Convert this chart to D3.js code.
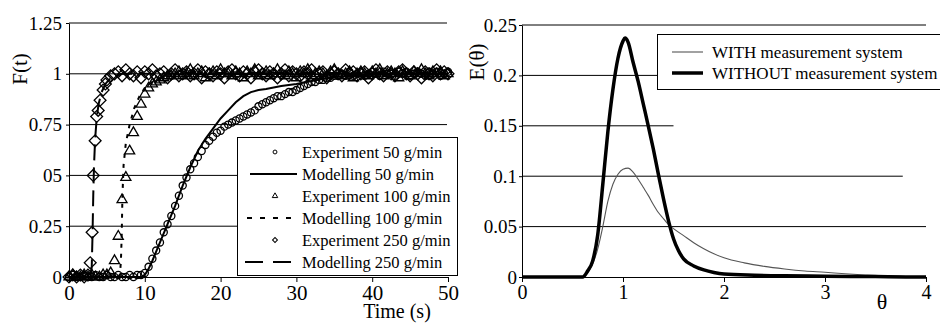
<!DOCTYPE html>
<html>
<head>
<meta charset="utf-8">
<script src="https://cdn.jsdelivr.net/npm/d3@7/dist/d3.min.js"></script>
<style>
  body { margin: 0; background: #fff; }
  svg { display: block; font-family: "Liberation Serif", "Times New Roman", Times, serif; }
</style>
</head>
<body>
<svg id="chart" width="940" height="323"></svg>
<script>
// ---- left panel: F(t) for three flow rates ----
const tGrid = [0,0.5,1,1.5,2,2.5,3,3.5,4,4.5,5,5.5,6,6.5,7,7.5,8,8.5,9,9.5,
  10,10.5,11,11.5,12,12.5,13,13.5,14,14.5,15,15.5,16,16.5,17,17.5,18,18.5,19,19.5,
  20,20.5,21,21.5,22,22.5,23,23.5,24,24.5,25,25.5,26,26.5,27,27.5,28,28.5,29,29.5,
  30,30.5,31,31.5,32,32.5,33,33.5,34,34.5,35,35.5,36,36.5,37,37.5,38,38.5,39,39.5,
  40,40.5,41,41.5,42,42.5,43,43.5,44,44.5,45,45.5,46,46.5,47,47.5,48,48.5,49,49.5,50];

// Experiment 50 g/min (on tGrid)
const exp50 = [0,0.01,0,0,0.01,0,0,0.01,0,0,0.01,0,0,0.01,0,0,0.01,0,0.01,0.01,
  0.02,0.05,0.09,0.13,0.17,0.22,0.26,0.30,0.35,0.40,0.45,0.49,0.53,0.56,0.59,0.62,0.65,0.67,0.69,0.71,
  0.72,0.74,0.75,0.76,0.77,0.78,0.79,0.80,0.81,0.82,0.84,0.85,0.86,0.87,0.88,0.89,0.89,0.90,0.91,0.91,
  0.92,0.93,0.94,0.95,0.96,0.96,0.97,0.97,0.98,0.98,0.99,
  0.99,1.00,0.99,1.01,0.99,1.00,1.01,0.99,1.00,1.01,1.00,0.99,1.01,1.00,1.00,0.99,1.01,1.00,1.01,0.99,
  1.00,1.01,1.00,0.99,1.01,1.00,1.01,0.99,1.00,1.01];

// Experiment 100 g/min (on tGrid)
const exp100 = [0,0.01,0,0,0.01,0,0.01,0,0,0.01,0.01,0.02,
  0.08,0.20,0.38,0.49,0.62,0.71,0.79,0.85,0.90,0.93,0.95,0.96,0.97,0.98,0.99,0.99,1.00,
  1.01,0.99,1.00,1.02,0.99,1.00,1.01,0.98,1.00,1.01,
  0.99,1.02,1.00,1.00,0.99,1.01,1.00,0.98,1.01,1.00,
  1.02,0.99,1.00,1.01,0.99,1.00,1.02,1.00,0.99,1.01,
  1.00,0.98,1.01,1.00,1.02,0.99,1.00,1.01,1.00,0.99,
  1.01,1.02,1.00,0.99,1.00,1.01,0.98,1.00,1.01,1.00,
  0.99,1.01,1.00,1.02,0.99,1.00,1.01,1.00,0.98,1.01,
  1.00,0.99,1.01,1.00,1.02,1.00,0.99,1.01,1.00,1.01,
  0.99,1.00];

// Experiment 250 g/min: rise points, then tGrid from 5 s
const exp250Time = [0,0.5,1,1.5,2,2.5,2.8,3.05,3.2,3.45,3.65,3.85,4.1,4.5,4.8].concat(tGrid.slice(10));
const exp250 = [0,0.01,0,0.01,0,0.01,0.07,0.22,0.50,0.67,0.79,0.82,0.87,0.92,0.95,
  0.97,0.99,1.00,1.01,0.99,1.02,1.00,0.99,1.01,0.98,
  1.01,1.00,1.02,0.99,1.00,1.01,0.98,1.00,1.02,0.99,
  1.00,1.01,0.99,1.00,1.02,0.98,1.01,1.00,0.99,1.01,
  1.00,0.98,1.01,1.02,1.00,0.99,1.01,1.00,0.98,1.01,
  1.02,1.00,0.99,1.01,1.00,0.98,1.00,1.02,0.99,1.01,
  1.00,0.99,1.01,1.00,1.02,0.99,1.00,1.01,0.98,1.00,
  1.01,1.00,0.99,1.02,1.00,1.01,0.99,1.00,1.01,0.98,
  1.00,1.02,1.00,0.99,1.01,1.00,0.99,1.01,1.02,1.00,
  0.99,1.01,1.00,0.98,1.01,1.00,0.99,1.02,1.00,1.01,
  1.00];

// Modelling curves
const mod50Time = [0,9.5,10,10.5,11,12,13,14,15,16,17,18,19,20,21,22,23,24,25,26,28,30,32,35,40,45,50];
const mod50 = [0,0,0.01,0.04,0.08,0.17,0.26,0.35,0.45,0.54,0.62,0.68,0.73,0.78,0.82,0.86,0.89,0.91,0.92,0.925,0.94,0.95,0.965,0.985,0.995,1,1];
const mod100Time = [0,6.7,6.85,6.95,7.05,7.2,7.5,8,8.6,9.3,10,11,12,13.5,15,50];
const mod100 = [0,0,0.08,0.2,0.4,0.55,0.66,0.75,0.83,0.89,0.93,0.96,0.98,0.99,1,1];
const mod250Time = [0,2.8,3.0,3.1,3.2,3.3,3.45,3.65,3.9,4.3,4.8,5.5,7,50];
const mod250 = [0,0,0.05,0.2,0.4,0.55,0.68,0.78,0.85,0.91,0.95,0.98,1,1];

const leftYTicks = [0,0.25,0.5,0.75,1,1.25];
const leftYLabels = ["0","0.25","05","0.75","1","1.25"];
const leftXTicks = [0,10,20,30,40,50];
const leftLegend = ["Experiment 50 g/min","Modelling 50 g/min","Experiment 100 g/min",
  "Modelling 100 g/min","Experiment 250 g/min","Modelling 250 g/min"];

// ---- right panel: E(theta) ----
const thetaWith = [0,0.6,0.65,0.7,0.75,0.8,0.85,0.9,0.95,1.0,1.05,1.1,1.15,1.2,1.25,1.3,1.35,1.4,1.45,1.5,
  1.6,1.7,1.8,1.9,2.0,2.2,2.4,2.6,2.8,3.0,3.2,3.4,3.6,3.8,4.0];
const eWith = [0,0,0.004,0.013,0.028,0.05,0.075,0.092,0.102,0.107,0.108,0.104,0.097,0.089,0.081,0.072,0.064,0.058,0.052,0.048,
  0.041,0.034,0.028,0.023,0.019,0.014,0.0105,0.008,0.006,0.0047,0.0032,0.002,0.001,0.0005,0];
const thetaWithout = [0,0.6,0.65,0.7,0.75,0.8,0.85,0.9,0.95,1.0,1.02,1.05,1.1,1.15,1.2,1.25,1.3,1.35,1.4,1.45,
  1.5,1.55,1.6,1.7,1.8,1.9,2.0,2.3,2.6,3.0,3.5,3.8,4.0];
const eWithout = [0,0,0.006,0.016,0.042,0.092,0.144,0.186,0.217,0.234,0.237,0.233,0.213,0.194,0.172,0.150,0.127,0.102,0.078,0.056,
  0.038,0.026,0.018,0.011,0.007,0.0045,0.003,0.0018,0.0012,0.0008,0.0004,0.0001,0];

const rightYTicks = [0,0.05,0.1,0.15,0.2,0.25];
const rightYLabels = ["0","0.05","0.1","0.15","0.2","0.25"];
const rightXTicks = [0,1,2,3,4];
const rightLegend = ["WITH measurement system","WITHOUT measurement system"];

const serif = '"Liberation Serif", "Times New Roman", Times, serif';
const svg = d3.select('#chart');

function styleAxis(g, size) {
  g.attr('font-family', serif).attr('font-size', size);
  g.selectAll('path, line').attr('stroke', '#000').attr('stroke-width', 1);
}

// ======== LEFT PANEL ========
const xL = d3.scaleLinear().domain([0, 50]).range([69, 448]);
const yL = d3.scaleLinear().domain([0, 1.25]).range([277, 23]);

// grid lines
svg.append('g').selectAll('line')
  .data(leftYTicks.filter(v => v > 0))
  .enter().append('line')
  .attr('x1', xL(0)).attr('x2', xL(50) - 1)
  .attr('y1', d => yL(d)).attr('y2', d => yL(d))
  .attr('stroke', '#000').attr('stroke-width', 1);

// experiment markers (hollow)
const circleSym = d3.symbol().type(d3.symbolCircle).size(40);
const triSym = d3.symbol().type(d3.symbolTriangle).size(44);
const diaSym = d3.symbol().type(d3.symbolSquare).size(70);

function drawMarkers(times, vals, sym, rot) {
  svg.append('g').selectAll('path')
    .data(d3.zip(times, vals))
    .enter().append('path')
    .attr('d', sym)
    .attr('transform', d => `translate(${xL(d[0])},${yL(d[1])})` + (rot ? ` rotate(${rot})` : ''))
    .attr('fill', 'none').attr('stroke', '#000').attr('stroke-width', 1.3);
}
drawMarkers(exp250Time, exp250, diaSym, 45);
drawMarkers(tGrid, exp100, triSym, 0);
drawMarkers(tGrid, exp50, circleSym, 0);

// modelling lines
const lineL = d3.line().x(d => xL(d[0])).y(d => yL(d[1]));
svg.append('path').datum(d3.zip(mod50Time, mod50)).attr('d', lineL)
  .attr('fill', 'none').attr('stroke', '#000').attr('stroke-width', 2);
svg.append('path').datum(d3.zip(mod100Time, mod100)).attr('d', lineL)
  .attr('fill', 'none').attr('stroke', '#000').attr('stroke-width', 2).attr('stroke-dasharray', '4,6');
svg.append('path').datum(d3.zip(mod250Time, mod250)).attr('d', lineL)
  .attr('fill', 'none').attr('stroke', '#000').attr('stroke-width', 2).attr('stroke-dasharray', '16,7');

// axes
svg.append('g').attr('transform', `translate(${xL(0)},0)`)
  .call(d3.axisLeft(yL).tickValues(leftYTicks).tickFormat((d, i) => leftYLabels[i])
    .tickSize(3).tickPadding(4).tickSizeOuter(0))
  .call(g => styleAxis(g, 19));
svg.append('g').attr('transform', `translate(0,${yL(0)})`)
  .call(d3.axisBottom(xL).tickValues(leftXTicks).tickFormat(d3.format('d'))
    .tickSize(5).tickPadding(3).tickSizeOuter(0))
  .call(g => styleAxis(g, 21));

svg.append('text').attr('transform', 'translate(27,69) rotate(-90)')
  .attr('text-anchor', 'middle').attr('font-size', 21).text('F(t)');
svg.append('text').attr('x', 397).attr('y', 318)
  .attr('text-anchor', 'middle').attr('font-size', 20).text('Time (s)');

// legend
const legL = svg.append('g');
legL.append('rect').attr('x', 237.5).attr('y', 137.5).attr('width', 220).attr('height', 138)
  .attr('fill', '#fff').attr('stroke', '#000').attr('stroke-width', 1);
const rowsL = legL.selectAll('g').data(leftLegend).enter().append('g')
  .attr('transform', (d, i) => `translate(0,${152 + i * 22})`);
rowsL.append('text').attr('x', 302).attr('dy', '0.35em').attr('font-size', 16.5).text(d => d);
const smallCircle = d3.symbol().type(d3.symbolCircle).size(12);
const smallTri = d3.symbol().type(d3.symbolTriangle).size(13);
const smallDia = d3.symbol().type(d3.symbolSquare).size(12);
rowsL.each(function (d, i) {
  const r = d3.select(this);
  if (i === 0) r.append('path').attr('d', smallCircle).attr('transform', 'translate(275,0)')
    .attr('fill', 'none').attr('stroke', '#000');
  if (i === 2) r.append('path').attr('d', smallTri).attr('transform', 'translate(275,0)')
    .attr('fill', 'none').attr('stroke', '#000');
  if (i === 4) r.append('path').attr('d', smallDia).attr('transform', 'translate(275,0) rotate(45)')
    .attr('fill', 'none').attr('stroke', '#000');
  if (i === 1) r.append('line').attr('x1', 250).attr('x2', 297).attr('stroke', '#000').attr('stroke-width', 2);
  if (i === 3) r.append('line').attr('x1', 247).attr('x2', 296).attr('stroke', '#000').attr('stroke-width', 2)
    .attr('stroke-dasharray', '5,8');
  if (i === 5) r.append('line').attr('x1', 245).attr('x2', 291).attr('stroke', '#000').attr('stroke-width', 2)
    .attr('stroke-dasharray', '18,10');
});

// ======== RIGHT PANEL ========
const xR = d3.scaleLinear().domain([0, 4]).range([522, 926]);
const yR = d3.scaleLinear().domain([0, 0.25]).range([277, 25]);

// grid lines (some stop short, as in the source figure)
const gridEnd = v => (v === 0.15 ? 1.5 : v === 0.1 ? 3.77 : 4);
svg.append('g').selectAll('line')
  .data(rightYTicks.filter(v => v > 0))
  .enter().append('line')
  .attr('x1', xR(0)).attr('x2', d => xR(gridEnd(d)))
  .attr('y1', d => yR(d)).attr('y2', d => yR(d))
  .attr('stroke', '#000').attr('stroke-width', 1);

const lineR = d3.line().x(d => xR(d[0])).y(d => yR(d[1])).curve(d3.curveMonotoneX);
svg.append('path').datum(d3.zip(thetaWith, eWith)).attr('d', lineR)
  .attr('fill', 'none').attr('stroke', '#555').attr('stroke-width', 1.1);
svg.append('path').datum(d3.zip(thetaWithout, eWithout)).attr('d', lineR)
  .attr('fill', 'none').attr('stroke', '#000').attr('stroke-width', 3.5).attr('stroke-linejoin', 'round');

svg.append('g').attr('transform', `translate(${xR(0)},0)`)
  .call(d3.axisLeft(yR).tickValues(rightYTicks).tickFormat((d, i) => rightYLabels[i])
    .tickSize(3).tickPadding(2).tickSizeOuter(0))
  .call(g => styleAxis(g, 19));
svg.append('g').attr('transform', `translate(0,${yR(0)})`)
  .call(d3.axisBottom(xR).tickValues(rightXTicks).tickFormat(d3.format('d'))
    .tickSize(5).tickPadding(3).tickSizeOuter(0))
  .call(g => styleAxis(g, 20));

svg.append('text').attr('transform', 'translate(484,62) rotate(-90)')
  .attr('text-anchor', 'middle').attr('font-size', 21).text('E(\u03b8)');
svg.append('text').attr('x', 882).attr('y', 309)
  .attr('text-anchor', 'middle').attr('font-size', 22).text('\u03b8');

// legend
const legR = svg.append('g');
legR.append('rect').attr('x', 657.5).attr('y', 34.5).attr('width', 300).attr('height', 55)
  .attr('fill', '#fff').attr('stroke', '#000').attr('stroke-width', 1);
const rowsR = legR.selectAll('g').data(rightLegend).enter().append('g')
  .attr('transform', (d, i) => `translate(0,${52 + i * 21})`);
rowsR.append('line').attr('x1', 672).attr('x2', 703)
  .attr('stroke', (d, i) => i === 0 ? '#555' : '#000')
  .attr('stroke-width', (d, i) => i === 0 ? 1.1 : 3.5);
rowsR.append('text').attr('x', 712).attr('dy', '0.35em').attr('font-size', 17).text(d => d);
</script>
</body>
</html>
